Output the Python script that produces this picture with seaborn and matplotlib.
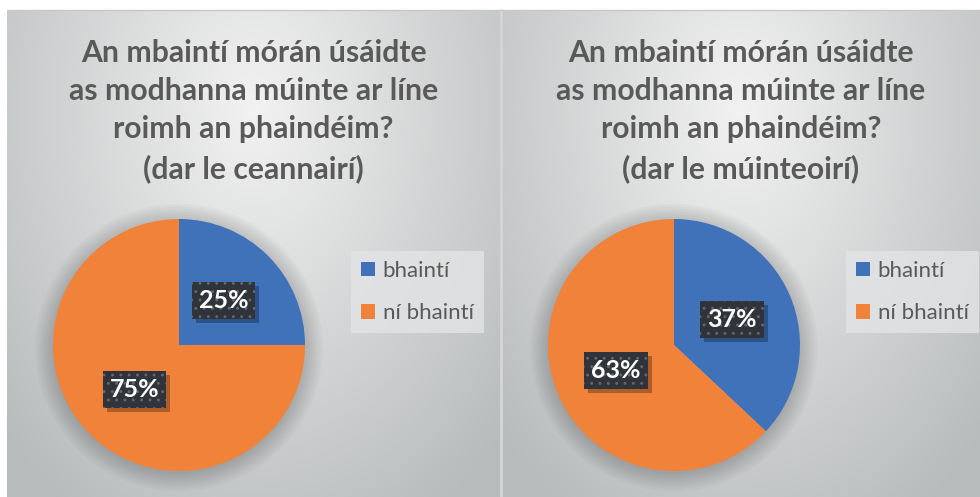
import numpy as np
import matplotlib
matplotlib.use("Agg")
import matplotlib.pyplot as plt
from matplotlib.patches import Patch, Circle, Rectangle
import seaborn as sns

# ==========================================
# 1. DATA
# ==========================================
labels = ["bhaintí", "ní bhaintí"]
leaders = [25, 75]
teachers = [37, 63]
titles = [
    "An mbaintí mórán úsáidte\nas modhanna múinte ar líne\nroimh an phaindéim?\n(dar le ceannairí)",
    "An mbaintí mórán úsáidte\nas modhanna múinte ar líne\nroimh an phaindéim?\n(dar le múinteoirí)",
]

sns.set_style("white")
plt.rcParams['font.family'] = ['Lato', 'DejaVu Sans']
plt.rcParams['hatch.linewidth'] = 0.9
colors = sns.color_palette(["#3f72b9", "#f0823a"])

W, H = 980, 497
fig = plt.figure(figsize=(W / 100, H / 100), dpi=100)
label_texts = []


def px_rect(x0, y0, w, h):
    # pixel box (top-left origin) -> figure fraction
    return [x0 / W, 1 - (y0 + h) / H, w / W, h / H]


def draw_panel(x0, x1, values, title):
    top = 10
    # gradient background
    bg = fig.add_axes(px_rect(x0, top, x1 - x0, H - top))
    nx, ny = 200, 200
    xx, yy = np.meshgrid(np.linspace(-1, 1, nx), np.linspace(0, 1, ny))
    d = np.sqrt((xx * 0.9) ** 2 + ((yy - 0.2) * 1.25) ** 2)
    d = np.clip(d / 1.25, 0, 1)
    c0 = np.array([242, 242, 242]) / 255
    c1 = np.array([184, 187, 188]) / 255
    img = c0[None, None, :] * (1 - d[..., None]) + c1[None, None, :] * d[..., None]
    bg.imshow(img, extent=[0, 1, 0, 1], aspect="auto", origin="upper")
    bg.set_xlim(0, 1)
    bg.set_ylim(0, 1)
    bg.axis("off")

    cx = x0 + (x1 - x0) / 2
    fig.text(cx / W, 1 - 111 / H, title, ha="center", va="center",
             fontsize=21.7, fontweight="bold", color="#595959", linespacing=1.45)

    # pie
    pcx = x0 + 172
    pcy, r = 345, 126
    ax = fig.add_axes(px_rect(pcx - r, pcy - r, 2 * r, 2 * r))
    for k in range(8):
        ax.add_patch(Circle((0, -0.02), 1.0 + 0.02 * k, color="black",
                            alpha=0.025, lw=0, zorder=0, clip_on=False))
    wedges, texts, autotexts = ax.pie(values, colors=colors, startangle=90,
                                      counterclock=False, autopct="%1.0f%%",
                                      pctdistance=0.5,
                                      wedgeprops=dict(linewidth=0))
    for t in autotexts:
        t.set_color("white")
        t.set_fontsize(18)
        t.set_fontweight("bold")
        t.set_zorder(5)
        t.set_bbox(dict(boxstyle="square,pad=0.28", facecolor="#30343a",
                        edgecolor="#62676d", hatch="..", linewidth=0))
        label_texts.append(t)
    ax.set_xlim(-1, 1)
    ax.set_ylim(-1, 1)
    ax.set_aspect("equal")
    ax.axis("off")

    handles = [Patch(facecolor=c, edgecolor="none") for c in colors]
    leg = fig.legend(handles, labels, loc="upper left",
                     bbox_to_anchor=((x0 + 344) / W, 1 - 251 / H),
                     fontsize=16, labelcolor="#595959", frameon=True,
                     fancybox=False, handlelength=0.62, handleheight=0.62,
                     handletextpad=0.35, labelspacing=1.0, borderpad=0.45,
                     borderaxespad=0)
    leg.get_frame().set_facecolor("#e3e4e5")
    leg.get_frame().set_alpha(0.8)
    leg.get_frame().set_linewidth(0)


draw_panel(7, 500, leaders, titles[0])
draw_panel(502, 980, teachers, titles[1])

# drop shadows under the data label boxes (above wedges, below the labels)
fig.canvas.draw()
for t in label_texts:
    bb = t.get_bbox_patch().get_window_extent()
    t.axes.add_patch(Rectangle((bb.x0 + 4, bb.y0 - 4), bb.width, bb.height,
                               transform=None, facecolor="black", alpha=0.28,
                               lw=0, zorder=4, clip_on=False))

# separator and top border lines
fig.add_artist(plt.Line2D([501 / W, 501 / W], [0, 1 - 10 / H], color="#d6d6d6", lw=2))
fig.add_artist(plt.Line2D([7 / W, 1], [1 - 10 / H, 1 - 10 / H], color="#c8c8c8", lw=1))

fig.savefig("out.png", dpi=100)
